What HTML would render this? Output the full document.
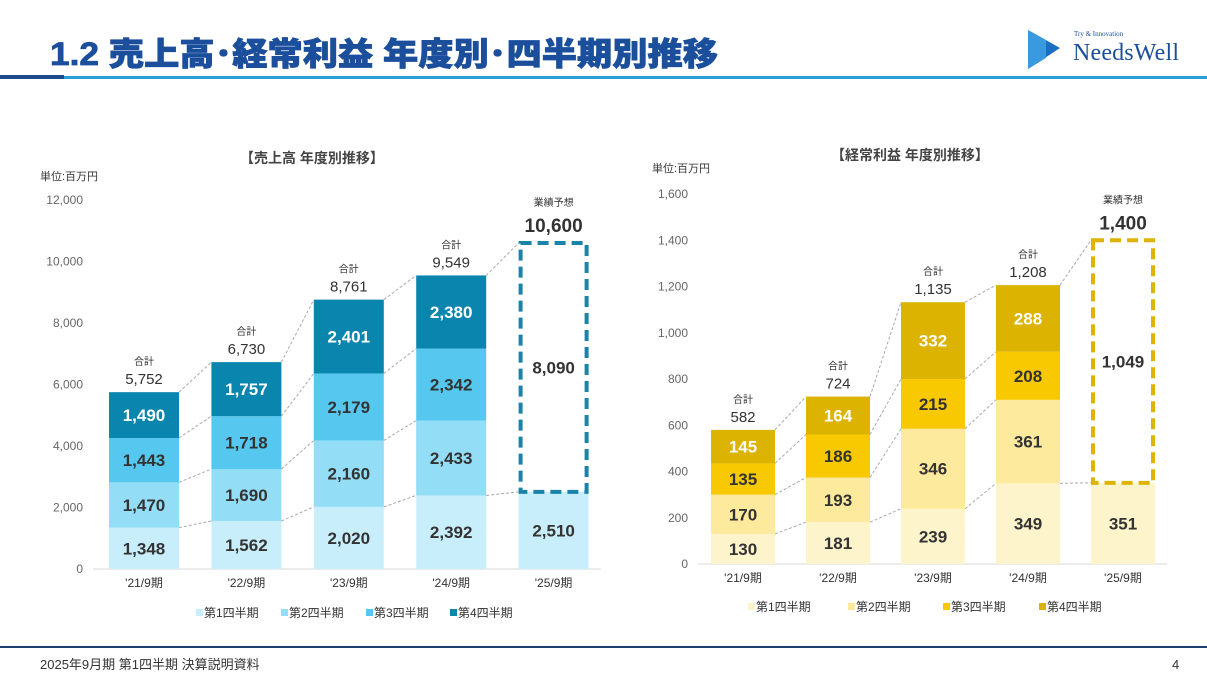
<!DOCTYPE html>
<html><head><meta charset="utf-8"><style>
body{margin:0;background:#fff;}
svg{display:block;font-family:"Liberation Sans","Noto Sans CJK JP",sans-serif;}
</style></head><body>
<svg id="s" width="1207" height="679" viewBox="0 0 1207 679">
<text x="50" y="65" font-size="32" font-weight="900" fill="#1b4f9c" stroke="#1b4f9c" stroke-width="0.8" textLength="668" lengthAdjust="spacingAndGlyphs">1.2  売上高･経常利益  年度別･四半期別推移</text>
<rect x="0" y="75" width="64" height="4" fill="#1c4a8a"/>
<rect x="64" y="76" width="1143" height="3" fill="#2aa0d6"/>
<g>
<polygon points="1028,30 1060,48 1028,69" fill="#1b6ec2"/>
<polygon points="1028,30 1046,40 1046,58 1028,69" fill="#3a9ae0"/>
<text x="1074" y="36" font-size="7" fill="#1b4f9c" font-family="Liberation Serif,serif">Try &amp; Innovation</text>
<text x="1073" y="60" font-size="24" fill="#1b4f9c" font-family="Liberation Serif,serif" textLength="106">NeedsWell</text>
</g>
<rect x="0" y="646" width="1207" height="2" fill="#1c3f6e"/>
<text x="40" y="669" font-size="13" fill="#333">2025年9月期 第1四半期 決算説明資料</text>
<text x="1172" y="669" font-size="13" fill="#333">4</text>
<g id="c1"></g>
<g id="c2"></g>
</svg>
<script>
const NS="http://www.w3.org/2000/svg";
const salesCats=["'21/9期","'22/9期","'23/9期","'24/9期","'25/9期"];
const salesQ1=[1348,1562,2020,2392,2510];
const salesQ2=[1470,1690,2160,2433,0];
const salesQ3=[1443,1718,2179,2342,0];
const salesQ4=[1490,1757,2401,2380,0];
const salesTotals=[5752,6730,8761,9549,10600];
const salesForecastRest=8090;
const salesTicks=[0,2000,4000,6000,8000,10000,12000];
const profitCats=["'21/9期","'22/9期","'23/9期","'24/9期","'25/9期"];
const profitQ1=[130,181,239,349,351];
const profitQ2=[170,193,346,361,0];
const profitQ3=[135,186,215,208,0];
const profitQ4=[145,164,332,288,0];
const profitTotals=[582,724,1135,1208,1400];
const profitForecastRest=1049;
const profitTicks=[0,200,400,600,800,1000,1200,1400,1600];
const legendLabels=["第1四半期","第2四半期","第3四半期","第4四半期"];

function el(p,tag,a,txt){const e=document.createElementNS(NS,tag);for(const k in a)e.setAttribute(k,a[k]);if(txt!==undefined)e.textContent=txt;p.appendChild(e);return e;}
function fmt(v){return v.toLocaleString('en-US');}

function draw(g,cfg){
  const y=v=>cfg.y0-(v/cfg.max)*(cfg.y0-cfg.yTop);
  const x=i=>cfg.x0+i*cfg.step;
  let t=el(g,'text',{x:cfg.titleX,y:cfg.titleY,'font-size':14,'font-weight':'bold',fill:'#444','text-anchor':'middle'},cfg.title);
  
  
  t=el(g,'text',{x:cfg.unitX,y:cfg.unitY,'font-size':11,fill:'#333'},'単位:百万円');
  
  
  cfg.ticks.forEach(v=>{
    const tt=el(g,'text',{x:cfg.tickX,y:y(v)+4,'font-size':12,fill:'#666','text-anchor':'end'},fmt(v));
    
    
  });
  const ax=el(g,'line',{x1:cfg.tickX+10,x2:x(4)+cfg.w+12,y1:cfg.y0,y2:cfg.y0,stroke:'#d9d9d9','stroke-width':1});
  
  
  const series=cfg.series;
  const n=cfg.cats.length;
  const tops=[];
  for(let i=0;i<n;i++){
    let cum=0;const bounds=[0];
    for(let s=0;s<4;s++){
      const v=series[s][i];if(!v){continue;}
      const r=el(g,'rect',{x:x(i),y:y(cum+v),width:cfg.w,height:y(cum)-y(cum+v),fill:cfg.colors[s]});
      
      
      const lt=el(g,'text',{x:x(i)+cfg.w/2,y:(y(cum)+y(cum+v))/2+6,'font-size':17,'font-weight':'bold',fill:cfg.textCol[s],'text-anchor':'middle'},fmt(v));
      
      
      cum+=v;bounds.push(cum);
    }
    tops.push(bounds);
    const cx=x(i)+cfg.w/2;
    if(i<n-1){
      let a=el(g,'text',{x:cx,y:y(cum)-27,'font-size':10,fill:'#333','text-anchor':'middle'},'合計');
      
      
      a=el(g,'text',{x:cx,y:y(cum)-8,'font-size':15,fill:'#333','text-anchor':'middle'},fmt(cfg.totals[i]));
      
      
    } else {
      const tot=cfg.totals[i];
      const b=el(g,'rect',{x:x(i)+2,y:y(tot),width:cfg.w-4,height:y(cum)-y(tot),fill:'none',stroke:cfg.dash,'stroke-width':4,'stroke-dasharray':'11,6'});
      
      
      let a=el(g,'text',{x:cx,y:(y(tot)+y(cum))/2+6,'font-size':17,'font-weight':'bold',fill:'#333','text-anchor':'middle'},fmt(cfg.rest));
      
      
      a=el(g,'text',{x:cx,y:y(tot)-37,'font-size':10,fill:'#333','text-anchor':'middle'},'業績予想');
      
      
      a=el(g,'text',{x:cx,y:y(tot)-11,'font-size':19,'font-weight':'bold',fill:'#333','text-anchor':'middle'},fmt(tot));
      
      
      tops[i]=[0,cum,tot];
    }
    const xl=el(g,'text',{x:cx,y:cfg.y0+18,'font-size':12,fill:'#333','text-anchor':'middle'},cfg.cats[i]);
    
    
  }
  for(let i=0;i<n-1;i++){
    const a=tops[i],b=tops[i+1];
    const pairs=(i+1===n-1)?[[a[1],b[1]],[a[a.length-1],b[2]]]:a.slice(1).map((v,k)=>[v,b[k+1]]);
    pairs.forEach(p=>{
      const l=el(g,'line',{x1:x(i)+cfg.w,y1:y(p[0]),x2:x(i+1),y2:y(p[1]),stroke:'#aaa','stroke-width':1,'stroke-dasharray':'3,2'});
      
      
    });
  }
  legendLabels.forEach((lab,k)=>{
    const lx=cfg.legX[k];
    const r=el(g,'rect',{x:lx,y:cfg.legY-8,width:7,height:7,fill:cfg.colors[k]});
    
    
    const tt=el(g,'text',{x:lx+8,y:cfg.legY,'font-size':12,fill:'#333'},lab);
    
    
  });
}
draw(document.getElementById('c1'),{title:'【売上高 年度別推移】',titleX:312,titleY:163,unitX:40,unitY:180,
 ticks:salesTicks,max:12000,y0:569,yTop:200,tickX:83,x0:109,step:102.4,w:70,cats:salesCats,
 series:[salesQ1,salesQ2,salesQ3,salesQ4],totals:salesTotals,rest:salesForecastRest,
 colors:['#c9eefb','#93ddf6','#56c8f0','#0a85ad'],textCol:['#333','#333','#333','#fff'],dash:'#1a84a8',
 legX:[196,281,366,450],legY:617});
draw(document.getElementById('c2'),{title:'【経常利益 年度別推移】',titleX:910,titleY:160,unitX:652,unitY:172,
 ticks:profitTicks,max:1600,y0:564,yTop:194,tickX:688,x0:711,step:95,w:64,cats:profitCats,
 series:[profitQ1,profitQ2,profitQ3,profitQ4],totals:profitTotals,rest:profitForecastRest,
 colors:['#fdf4cc','#fdea9c','#f8c800','#dcb300'],textCol:['#333','#333','#333','#fff'],dash:'#deb400',
 legX:[748,848,943,1039],legY:611});
</script>
</body></html>
